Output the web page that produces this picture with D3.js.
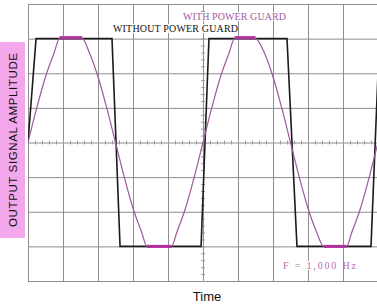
<!DOCTYPE html>
<html>
<head>
<meta charset="utf-8">
<script src="https://cdn.jsdelivr.net/npm/d3@7"></script>
<style>
  html, body { margin: 0; padding: 0; background: #fff; }
  svg { display: block; }
</style>
</head>
<body>
<svg id="chart" width="377" height="308"></svg>
<script>
// grid divisions (time in ms, amplitude in divisions)
const timeTicks = [0, 0.2, 0.4, 0.6, 0.8, 1.0, 1.2, 1.4, 1.6, 1.8, 2.0];
const ampTicks = [-4, -3, -2, -1, 0, 1, 2, 3, 4];

// without power guard (square-ish wave)
const squareTime = [0, 0.046, 0.48, 0.526, 0.989, 1.034, 1.48, 1.537, 1.96, 2.0];
const squareAmp = [0, 3, 3, -3, -3, 3, 3, -3, -3, 2];

// with power guard (clipped sine)
const sineTime = [0, 0.05, 0.1, 0.15, 0.18, 0.31, 0.35, 0.4, 0.45, 0.5,
  0.55, 0.6, 0.65, 0.68, 0.82, 0.85, 0.9, 0.95, 1.0,
  1.05, 1.1, 1.15, 1.18, 1.3, 1.35, 1.4, 1.45, 1.5,
  1.55, 1.6, 1.65, 1.69, 1.82, 1.85, 1.9, 1.95, 2.0];
const sineAmp = [0, 1.0, 1.9, 2.6, 3, 3, 2.6, 1.9, 1.0, 0,
  -1.0, -1.9, -2.6, -3, -3, -2.6, -1.9, -1.0, 0,
  1.0, 1.9, 2.6, 3, 3, 2.6, 1.9, 1.0, 0,
  -1.0, -1.9, -2.6, -3, -3, -2.6, -1.9, -1.0, 0];

const yLabel = 'OUTPUT SIGNAL AMPLITUDE';
const xLabel = 'Time';
const withLabel = 'WITH POWER GUARD';
const withoutLabel = 'WITHOUT POWER GUARD';
const freqLabel = 'F = 1,000 Hz';

const plotLeft = 28;
const plotRight = 378;
const plotTop = 4;
const plotBottom = 281;

const svg = d3.select('svg#chart');

const xScale = d3.scaleLinear()
  .domain([0, 2])
  .range([plotLeft, plotRight]);

const yScale = d3.scaleLinear()
  .domain([-4, 4])
  .range([plotBottom, plotTop]);

// pink box behind the y label
svg.append('rect')
  .attr('x', 0)
  .attr('y', 42)
  .attr('width', 25)
  .attr('height', 196)
  .attr('fill', '#f4a8ec');

svg.append('text')
  .text(yLabel)
  .attr('transform', `translate(17,${(42 + 238) / 2}) rotate(-90)`)
  .attr('text-anchor', 'middle')
  .attr('font-family', 'Liberation Sans, Arial, sans-serif')
  .attr('font-size', '11.5px')
  .attr('textLength', 174)
  .attr('fill', '#111');

// grid
const gridColor = '#8e8e8e';
const xGrid = d3.axisBottom(xScale)
  .tickValues(timeTicks)
  .tickSize(-(plotBottom - plotTop))
  .tickSizeOuter(0)
  .tickFormat('');
const yGrid = d3.axisLeft(yScale)
  .tickValues(ampTicks)
  .tickSize(-(plotRight - plotLeft))
  .tickSizeOuter(0)
  .tickFormat('');

svg.append('g')
  .attr('class', 'grid')
  .attr('transform', `translate(0,${plotBottom})`)
  .call(xGrid);
svg.append('g')
  .attr('class', 'grid')
  .attr('transform', `translate(${plotLeft},0)`)
  .call(yGrid);

svg.selectAll('.grid line')
  .attr('stroke', gridColor)
  .attr('stroke-width', 1);
svg.selectAll('.grid path')
  .attr('stroke', gridColor)
  .attr('stroke-width', 1);

// minor ticks on the centre lines
const minorX = d3.axisBottom(xScale)
  .tickValues(d3.range(0, 2.001, 0.04))
  .tickSize(4)
  .tickSizeOuter(0)
  .tickFormat('');
const minorY = d3.axisRight(yScale)
  .tickValues(d3.range(-4, 4.001, 0.2))
  .tickSize(4)
  .tickSizeOuter(0)
  .tickFormat('');

svg.append('g')
  .attr('class', 'minor')
  .attr('transform', `translate(0,${yScale(0) - 2})`)
  .call(minorX);
svg.append('g')
  .attr('class', 'minor')
  .attr('transform', `translate(${xScale(1) - 2},0)`)
  .call(minorY);

svg.selectAll('.minor path.domain').remove();
svg.selectAll('.minor line')
  .attr('stroke', '#9a9a9a')
  .attr('stroke-width', 1);

// label boxes
function boxedText(label, x, y, color, size) {
  const t = svg.append('text')
    .text(label)
    .attr('x', x)
    .attr('y', y)
    .attr('font-family', 'Liberation Serif, Times New Roman, serif')
    .attr('font-size', size)
    .attr('fill', color);
  const b = t.node().getBBox();
  svg.insert('rect', () => t.node())
    .attr('x', b.x - 1)
    .attr('y', b.y + 1)
    .attr('width', b.width + 2)
    .attr('height', b.height - 2)
    .attr('fill', '#fff');
  return t;
}

boxedText(withLabel, 183, 20, '#a55aa6', '10px')
  .attr('textLength', 103);
boxedText(withoutLabel, 113, 32, '#111', '10px')
  .attr('textLength', 125);
boxedText(freqLabel, 283, 269, '#b56cb0', '10px')
  .attr('textLength', 73);

svg.append('clipPath')
  .attr('id', 'plot-clip')
  .append('rect')
  .attr('x', plotLeft)
  .attr('y', plotTop - 3)
  .attr('width', plotRight - plotLeft)
  .attr('height', plotBottom - plotTop + 6);

const square = squareTime.map((t, i) => ({ t, v: squareAmp[i] }));
const sine = sineTime.map((t, i) => ({ t, v: sineAmp[i] }));

const lineFunction = d3.line()
  .x((d) => xScale(d.t))
  .y((d) => yScale(d.v));

const sineFunction = d3.line()
  .x((d) => xScale(d.t))
  .y((d) => yScale(d.v))
  .curve(d3.curveMonotoneX);

const waves = svg.append('g')
  .attr('clip-path', 'url(#plot-clip)');

waves.append('path')
  .attr('d', lineFunction(square))
  .attr('stroke', '#1c1c1c')
  .attr('stroke-width', 1.6)
  .attr('fill', 'none');

waves.append('path')
  .attr('d', sineFunction(sine))
  .attr('stroke', '#9c5a98')
  .attr('stroke-width', 1.2)
  .attr('fill', 'none');

// the clipped (flat) parts of the guarded wave are drawn heavier
const flats = sine.slice(1).map((d, i) => [sine[i], d])
  .filter((p) => Math.abs(p[0].v) === 3 && p[0].v === p[1].v);

waves.selectAll('path.flat')
  .data(flats)
  .enter()
  .append('path')
  .attr('class', 'flat')
  .attr('d', (p) => lineFunction(p))
  .attr('transform', (p) => `translate(0,${p[0].v > 0 ? -1 : 0})`)
  .attr('stroke', '#b0309e')
  .attr('stroke-width', 3)
  .attr('fill', 'none');

svg.append('text')
  .text(xLabel)
  .attr('x', 207)
  .attr('y', 301)
  .attr('text-anchor', 'middle')
  .attr('font-family', 'Liberation Sans, Arial, sans-serif')
  .attr('font-size', '13px')
  .attr('fill', '#111');
</script>
</body>
</html>
